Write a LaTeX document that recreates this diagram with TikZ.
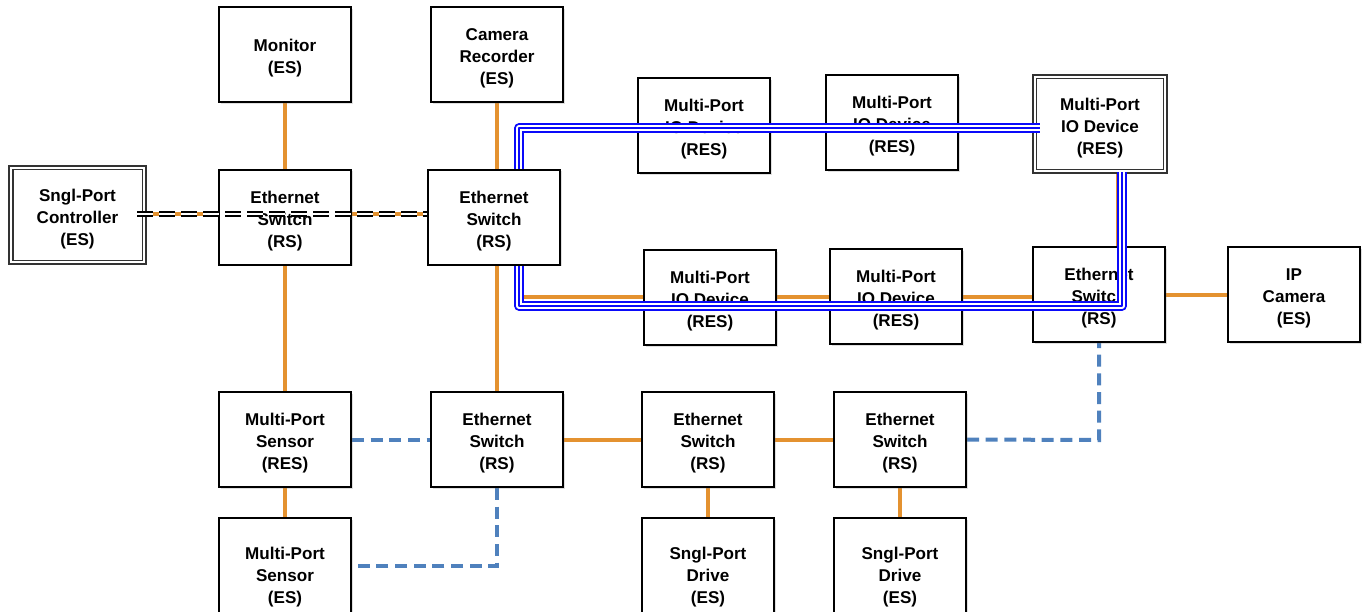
\documentclass[tikz,border=0pt]{standalone}
\usepackage{fontspec}
\setmainfont{Liberation Sans}
\usetikzlibrary{backgrounds,shadows}
\definecolor{lnorange}{RGB}{228,146,48}
\definecolor{lnblue}{RGB}{79,129,189}
\definecolor{trblue}{RGB}{10,10,250}
\newcommand{\bxtxt}[1]{\raisebox{-3pt}[\height][\depth]{\begin{tabular}{@{}c@{}}#1\end{tabular}}}
\tikzset{
  box/.style={draw=black, line width=1.5pt, fill=white, minimum width=99pt, minimum height=71.25pt,
    font=\bfseries\fontsize{12.8}{16.5}\selectfont, inner sep=0pt,
    drop shadow={opacity=0.25, shadow xshift=1.2pt, shadow yshift=-1.2pt}},
  dbox/.style={box, draw=black!80, double=white, double distance=1.4pt, line width=1.3pt},
  olink/.style={draw=lnorange, line width=3pt},
  blink/.style={draw=lnblue, line width=3pt, dash pattern=on 9pt off 5pt},
  klink/.style={draw=black, double=white, line width=1.5pt, double distance=1.3pt, dash pattern=on 12pt off 4.5pt},
  tri/.style={draw=trblue, line width=7pt, line join=round,
    postaction={draw=white, line width=3.9pt, line join=round,
      postaction={draw=trblue, line width=1.5pt}}}
}
\begin{document}
\begin{tikzpicture}[x=0.75pt,y=-0.75pt]
\useasboundingbox (0,0) rectangle (1367,611);
% nodes
\node[box] (mon) at (285,54.5) {\bxtxt{Monitor\\(ES)}};
\node[box] (cam) at (497,54.5) {\bxtxt{Camera\\Recorder\\(ES)}};
\node[dbox, minimum width=100pt, minimum height=71pt] (ctl) at (77.5,215) {\bxtxt{Sngl-Port\\Controller\\(ES)}};
\node[box] (sw1) at (285,217) {\bxtxt{Ethernet\\Switch\\(RS)}};
\node[box] (sw2) at (494,217) {\bxtxt{Ethernet\\Switch\\(RS)}};
\node[box] (io1) at (704,125.5) {\bxtxt{Multi-Port\\IO Device\\(RES)}};
\node[box] (io2) at (892,122.5) {\bxtxt{Multi-Port\\IO Device\\(RES)}};
\node[dbox, minimum width=98pt, minimum height=71pt] (io3) at (1100,124) {\bxtxt{Multi-Port\\IO Device\\(RES)}};
\node[box] (io4) at (710,297.5) {\bxtxt{Multi-Port\\IO Device\\(RES)}};
\node[box] (io5) at (896,296.5) {\bxtxt{Multi-Port\\IO Device\\(RES)}};
\node[box] (sw3) at (1099,294.5) {\bxtxt{Ethernet\\Switch\\(RS)}};
\node[box] (ipc) at (1294,294.5) {\bxtxt{IP\\Camera\\(ES)}};
\node[box] (sr) at (285,439.5) {\bxtxt{Multi-Port\\Sensor\\(RES)}};
\node[box] (sw4) at (497,439.5) {\bxtxt{Ethernet\\Switch\\(RS)}};
\node[box] (sw5) at (708,439.5) {\bxtxt{Ethernet\\Switch\\(RS)}};
\node[box] (sw6) at (900,439.5) {\bxtxt{Ethernet\\Switch\\(RS)}};
\node[box, minimum height=82.5pt] (se) at (285,573) {\bxtxt{Multi-Port\\Sensor\\(ES)}};
\node[box, minimum height=82.5pt] (d1) at (708,573) {\bxtxt{Sngl-Port\\Drive\\(ES)}};
\node[box, minimum height=82.5pt] (d2) at (900,573) {\bxtxt{Sngl-Port\\Drive\\(ES)}};
% helper coordinates
\coordinate (t1) at (521,130);
\coordinate (b1) at (521,297);
\coordinate (v3) at (1118,200);
\coordinate (c1) at (497,566);
\coordinate (c2) at (1099,440);
\coordinate (k1) at (137,214);
\coordinate (ta) at (519,128);
\coordinate (te) at (1040,128);
\coordinate (ra) at (1122,306);
\coordinate (rb) at (519,306);
\begin{scope}[on background layer]
\draw[olink] (mon) -- (sw1);
\draw[olink] (sw1) -- (sr);
\draw[olink] (sr) -- (se);
\draw[olink] (cam.south) -- (cam.south |- sw2.north);
\draw[olink] (sw2.south -| sw4.north) -- (sw4.north);
\draw[olink] (ctl.east |- k1) -- (sw2.west |- k1);
\draw[olink] (sw2.north -| t1) -- (t1) -- (t1 -| io3.west);
\draw[olink] (sw2.south -| b1) -- (b1) -- (b1 -| sw3.west);
\draw[olink] (io3.south -| v3) -- (sw3.north -| v3);
\draw[olink] (sw3.east |- ipc.west) -- (ipc.west);
\draw[olink] (sw4) -- (sw5) -- (sw6);
\draw[olink] (sw5) -- (d1);
\draw[olink] (sw6) -- (d2);
\draw[blink] (sr.east) -- (sw4.west);
\draw[blink] (sw4.south) -- (c1) -- (c1 -| se.east);
\draw[blink] (sw6.east) -- (c2) -- (sw3.south);
\end{scope}
% overlays
\draw[klink] (k1) -- (sw2.west |- k1);
\draw[tri] (sw2.north -| ta) -- (ta) -- (te);
\draw[tri] (io3.south -| ra) -- (ra) -- (rb) -- (sw2.south -| rb);
\end{tikzpicture}
\end{document}
